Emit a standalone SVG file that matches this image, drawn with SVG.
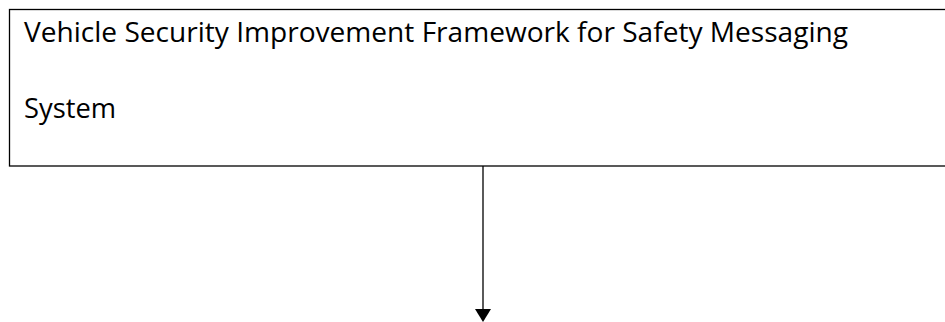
<svg xmlns="http://www.w3.org/2000/svg" width="945" height="322" viewBox="0 0 945 322">
<style>
.box{fill:#fff;stroke:#000;stroke-width:1.3}
.t{font-family:"Open Sans","Noto Sans",sans-serif;font-size:27.5px;fill:#000}
.c{stroke:#000;stroke-width:1.3;fill:none}
.ah{fill:#000}
</style>
<rect width="945" height="322" fill="#fff"/>
<g id="node-framework">
<rect class="box" x="9.5" y="9.5" width="940" height="156.5"/>
<text class="t" x="24" y="42" textLength="824" lengthAdjust="spacingAndGlyphs">Vehicle Security Improvement Framework for Safety Messaging</text>
<text class="t" x="24" y="118" textLength="92" lengthAdjust="spacingAndGlyphs">System</text>
</g>
<g id="connectors">
<line class="c" x1="483" y1="166" x2="483" y2="310"/>
<path class="ah" d="M475,309 L491,309 L483,322 Z"/>
</g>
</svg>
